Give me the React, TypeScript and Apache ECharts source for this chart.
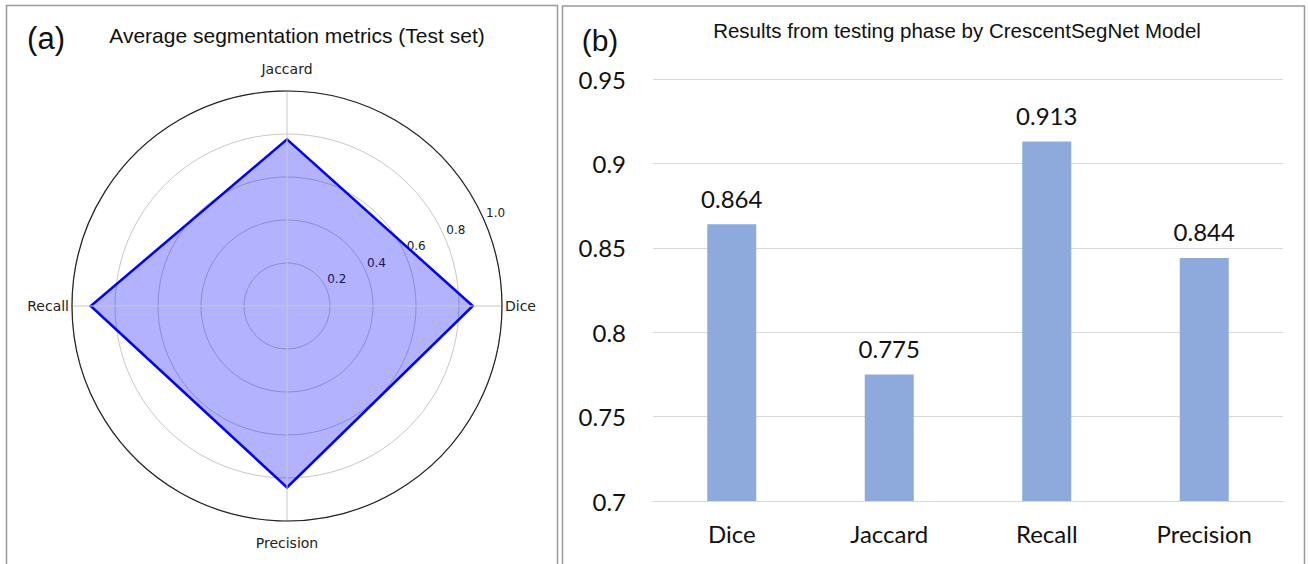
import React, { useEffect, useRef } from "react";
import * as echarts from "echarts";

const radarCategories = ["Dice", "Jaccard", "Recall", "Precision"];
const radarValues = [0.864, 0.775, 0.913, 0.844];
const radiusTicks = [0.2, 0.4, 0.6, 0.8, 1.0];

const barCategories = ["Dice", "Jaccard", "Recall", "Precision"];
const barValues = [0.864, 0.775, 0.913, 0.844];
const yTicks = [0.7, 0.75, 0.8, 0.85, 0.9, 0.95];

const leftTitle = "Average segmentation metrics (Test set)";
const rightTitle = "Results from testing phase by CrescentSegNet Model";

export default function App() {
  const ref = useRef<HTMLDivElement>(null);
  useEffect(() => {
    const chart = echarts.init(ref.current!, null, { renderer: "svg" });
    const R = 215;
    const labelShift = 22;
    const labelMin = -labelShift / R;
    const labelRadius = R * (1 - labelMin);
    const nCat = radarCategories.length;
    const radarData = radarCategories.map((c, i) => [radarValues[i], i]);
    const option: any = {
      animation: false,
      backgroundColor: "#ffffff",
      graphic: [
        { type: "rect", shape: { x: 6.5, y: 5.5, width: 551, height: 562 }, style: { fill: "none", stroke: "#9a9a9a", lineWidth: 1.5 }, silent: true },
        { type: "rect", shape: { x: 562.5, y: 6, width: 742, height: 562 }, style: { fill: "none", stroke: "#9a9a9a", lineWidth: 1.5 }, silent: true },
        { type: "text", x: 46, y: 38, style: { text: "(a)", fontSize: 31, fontFamily: "Liberation Sans", fill: "#111", textAlign: "center", textVerticalAlign: "middle" } },
        { type: "text", x: 297, y: 35, style: { text: leftTitle, fontSize: 21, fontFamily: "Liberation Sans", fill: "#111", textAlign: "center", textVerticalAlign: "middle" } },
        { type: "text", x: 600, y: 40, style: { text: "(b)", fontSize: 30, fontFamily: "Liberation Sans", fill: "#111", textAlign: "center", textVerticalAlign: "middle" } },
        { type: "text", x: 957, y: 30, style: { text: rightTitle, fontSize: 20.5, fontFamily: "Liberation Sans", fill: "#111", textAlign: "center", textVerticalAlign: "middle" } },
      ],
      polar: [
        { center: [287, 306], radius: R },
        { center: [287, 306], radius: labelRadius },
      ],
      angleAxis: [
        {
          polarIndex: 0,
          type: "value",
          min: 0,
          max: nCat,
          interval: 1,
          startAngle: 0,
          clockwise: false,
          axisLine: { show: true, lineStyle: { color: "#222", width: 1.2 } },
          axisTick: { show: false },
          axisLabel: {
            show: true,
            margin: 3,
            formatter: (v: number) => (v >= 0 && v < nCat ? `{l|${radarCategories[Math.round(v)]}}` : ""),
            rich: { l: { fontSize: 14, fontFamily: "DejaVu Sans", color: "#222", padding: [12, 0, 12, 0] } },
          },
          splitLine: { show: true, lineStyle: { color: "#c8c8c8", width: 1 } },
          z: 5,
        },
        {
          polarIndex: 1,
          type: "value",
          startAngle: 22.5,
          show: false,
        },
      ],
      radiusAxis: [
        {
          polarIndex: 0,
          min: 0,
          max: 1,
          interval: 0.2,
          axisLine: { show: false },
          axisTick: { show: false },
          axisLabel: { show: false },
          splitLine: { show: true, lineStyle: { color: "#c8c8c8", width: 1 } },
        },
        {
          polarIndex: 1,
          min: labelMin,
          max: 1,
          splitNumber: 5,
          axisLine: { show: false },
          axisTick: { show: false },
          splitLine: { show: false },
          axisLabel: {
            show: true,
            fontSize: 12,
            fontFamily: "DejaVu Sans",
            color: "#222",
            margin: 2,
            formatter: (v: number) => (radiusTicks.some((t) => Math.abs(t - v) < 1e-6) ? v.toFixed(1) : ""),
          },
        },
      ],
      grid: { left: 653, right: 25, top: 79, bottom: 63 },
      xAxis: {
        type: "category",
        data: barCategories,
        axisLine: { show: true, lineStyle: { color: "#d9d9d9", width: 1 } },
        axisTick: { show: false },
        axisLabel: { fontSize: 24, fontFamily: "Lato", color: "#111", margin: 20 },
      },
      yAxis: {
        type: "value",
        min: yTicks[0],
        max: yTicks[yTicks.length - 1],
        interval: 0.05,
        axisLine: { show: false },
        axisTick: { show: false },
        splitLine: { lineStyle: { color: "#d9d9d9", width: 1 } },
        axisLabel: {
          fontSize: 24,
          fontFamily: "Lato",
          color: "#111",
          margin: 27,
          formatter: (v: number) => String(parseFloat(v.toFixed(2))),
        },
      },
      series: [
        {
          type: "custom",
          coordinateSystem: "polar",
          polarIndex: 0,
          data: radarData,
          encode: { radius: 0, angle: 1 },
          z: 3,
          renderItem: (params: any, api: any) => {
            if (params.dataIndex !== 0) return null;
            const pts = radarValues.map((v, i) => api.coord([v, i]));
            return {
              type: "polygon",
              shape: { points: pts },
              style: { fill: "rgba(0,0,255,0.3)", stroke: "#0000ff", lineWidth: 2.5, lineJoin: "miter" },
            };
          },
        },
        {
          type: "bar",
          data: barValues,
          barWidth: 49,
          itemStyle: { color: "#8eaadc" },
          label: {
            show: true,
            position: "top",
            distance: 14,
            fontSize: 24,
            fontFamily: "Lato",
            color: "#111",
            formatter: (p: any) => p.value.toFixed(3),
          },
        },
      ],
    };
    chart.setOption(option);
    return () => chart.dispose();
  }, []);
  return <div ref={ref} style={{ position: "fixed", left: 0, top: 0, width: 1308, height: 564 }} />;
}
